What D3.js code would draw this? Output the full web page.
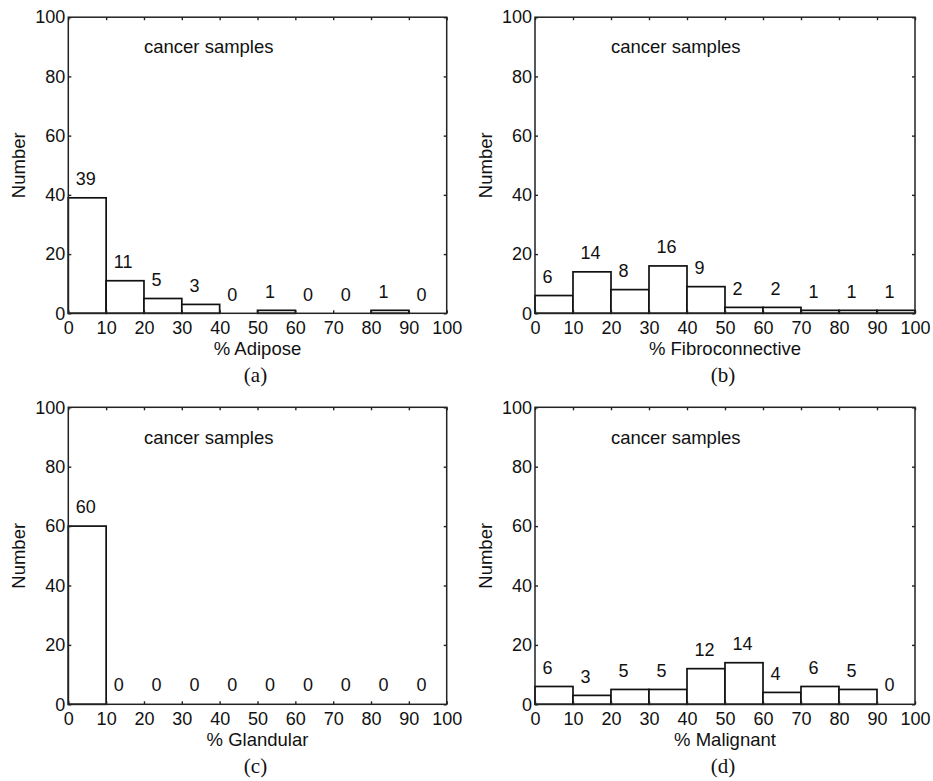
<!DOCTYPE html>
<html>
<head>
<meta charset="utf-8">
<script src="https://cdn.jsdelivr.net/npm/d3@7/dist/d3.min.js"></script>
<style>
  html, body { margin: 0; padding: 0; background: #fff; }
  svg { display: block; }
</style>
</head>
<body>
<svg id="chart" width="933" height="781"></svg>
<script>
// ---- data ----
const binEdges = [0, 10, 20, 30, 40, 50, 60, 70, 80, 90, 100];
const adipose = [39, 11, 5, 3, 0, 1, 0, 0, 1, 0];
const fibroconnective = [6, 14, 8, 16, 9, 2, 2, 1, 1, 1];
const glandular = [60, 0, 0, 0, 0, 0, 0, 0, 0, 0];
const malignant = [6, 3, 5, 5, 12, 14, 4, 6, 5, 0];
const xTicks = [0, 10, 20, 30, 40, 50, 60, 70, 80, 90, 100];
const yTicks = [0, 20, 40, 60, 80, 100];
const xLabels = ["% Adipose", "% Fibroconnective", "% Glandular", "% Malignant"];
const panelTags = ["(a)", "(b)", "(c)", "(d)"];
const annotation = "cancer samples";

const seriesList = [adipose, fibroconnective, glandular, malignant];

// ---- layout ----
const boxes = [
  {x0: 68.3, x1: 446.7, y0: 17.2, y1: 313.3},
  {x0: 535, x1: 915, y0: 17.2, y1: 313.3},
  {x0: 68.3, x1: 446.7, y0: 407.3, y1: 704.3},
  {x0: 535, x1: 915, y0: 407.3, y1: 704.3}
];

const svg = d3.select("#chart");
const sans = "'Liberation Sans', Arial, Helvetica, sans-serif";
const serif = "'Liberation Serif', 'Times New Roman', serif";
const ink = "#111";
const axisCol = "#222";

boxes.forEach((b, i) => {
  const vals = seriesList[i];
  const x = d3.scaleLinear().domain([0, 100]).range([b.x0, b.x1]);
  const y = d3.scaleLinear().domain([0, 100]).range([b.y1, b.y0]);
  const g = svg.append("g");

  // bars
  const bins = vals.map((v, k) => ({lo: binEdges[k], hi: binEdges[k + 1], v}));
  g.selectAll("rect.bar").data(bins.filter(d => d.v > 0)).join("rect")
    .attr("class", "bar")
    .attr("x", d => x(d.lo))
    .attr("y", d => y(d.v))
    .attr("width", d => x(d.hi) - x(d.lo))
    .attr("height", d => y(0) - y(d.v))
    .attr("fill", "#fff")
    .attr("stroke", "#111")
    .attr("stroke-width", 1.7);

  // axes
  const axB = d3.axisBottom(x).tickValues(xTicks).tickSize(-3).tickPadding(8).tickFormat(d3.format("d"));
  const axL = d3.axisLeft(y).tickValues(yTicks).tickSize(-3).tickPadding(3).tickFormat(d3.format("d"));
  const axT = d3.axisTop(x).tickValues(xTicks).tickSize(-3).tickFormat("");
  const axR = d3.axisRight(y).tickValues(yTicks).tickSize(-3).tickFormat("");

  const styleAxis = sel => {
    sel.select(".domain").remove();
    sel.selectAll(".tick line").attr("stroke", axisCol).attr("stroke-width", 1.4);
    sel.selectAll(".tick text").attr("fill", ink).attr("font-family", sans).attr("font-size", 18);
  };
  g.append("g").attr("transform", `translate(0,${b.y1})`).call(axB).call(styleAxis).attr("font-size", 18);
  g.append("g").attr("transform", `translate(${b.x0},0)`).call(axL).call(styleAxis).attr("font-size", 18);
  g.append("g").attr("transform", `translate(0,${b.y0})`).call(axT).call(styleAxis);
  g.append("g").attr("transform", `translate(${b.x1},0)`).call(axR).call(styleAxis);

  // frame
  g.append("rect")
    .attr("x", b.x0).attr("y", b.y0)
    .attr("width", b.x1 - b.x0).attr("height", b.y1 - b.y0)
    .attr("fill", "none").attr("stroke", axisCol).attr("stroke-width", 1.5);

  // value labels
  g.selectAll("text.val").data(bins).join("text")
    .attr("class", "val")
    .attr("x", d => x(d.lo + 2))
    .attr("y", d => y(d.v + 6.5) + 6.5)
    .attr("font-family", sans)
    .attr("font-size", 18)
    .attr("fill", ink)
    .text(d => d.v);

  // annotation
  g.append("text")
    .attr("x", x(20)).attr("y", y(90) + 6.5)
    .attr("font-family", sans).attr("font-size", 18.5).attr("fill", ink)
    .text(annotation);

  // axis labels
  const cx = (b.x0 + b.x1) / 2;
  g.append("text")
    .attr("x", cx).attr("y", b.y1 + 42)
    .attr("text-anchor", "middle")
    .attr("font-family", sans).attr("font-size", 18.5).attr("fill", ink)
    .text(xLabels[i]);
  g.append("text")
    .attr("transform", `translate(${b.x0 - 43},${(b.y0 + b.y1) / 2}) rotate(-90)`)
    .attr("text-anchor", "middle")
    .attr("font-family", sans).attr("font-size", 18.5).attr("fill", ink)
    .text("Number");
  g.append("text")
    .attr("x", cx - 2).attr("y", b.y1 + 69)
    .attr("text-anchor", "middle")
    .attr("font-family", serif).attr("font-size", 21).attr("fill", ink)
    .text(panelTags[i]);
});
</script>
</body>
</html>
